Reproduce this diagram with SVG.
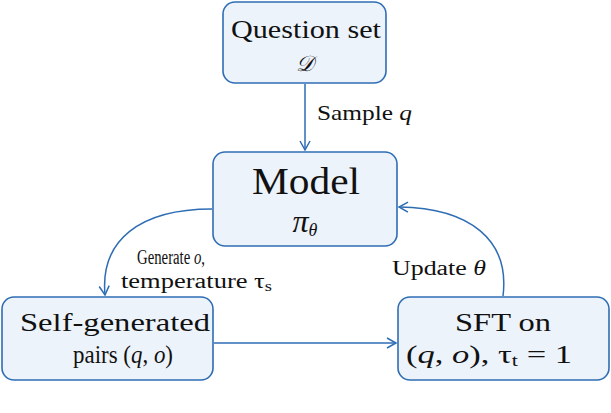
<svg xmlns="http://www.w3.org/2000/svg" width="611" height="413" viewBox="0 0 611 413">
<style>
.box{fill:#edf3fb;stroke:#2e6db4;stroke-width:1.6}
.c{fill:none;stroke:#2e6db4;stroke-width:1.5}
text{font-family:'Liberation Serif','DejaVu Serif',serif;fill:#111}
.i{font-style:italic}
</style>
<defs><marker id="a" markerWidth="12" markerHeight="12" refX="10" refY="6" orient="auto" markerUnits="userSpaceOnUse"><path d="M1,1 L10,6 L1,11" fill="none" stroke="#2e6db4" stroke-width="1.5"/></marker></defs>
<rect width="611" height="413" fill="#fff"/>
<g id="connectors">
<path class="c" d="M305,84 V150" marker-end="url(#a)"/>
<path class="c" d="M212,209 C140,209 100,240 105,295" marker-end="url(#a)"/>
<path class="c" d="M214,343 H396" marker-end="url(#a)"/>
<path class="c" d="M503,296 C510,240 470,208 399,207" marker-end="url(#a)"/>
<text x="317" y="120" font-size="21" textLength="95" lengthAdjust="spacingAndGlyphs">Sample <tspan class="i">q</tspan></text>
<text x="137" y="264" font-size="20" textLength="68" lengthAdjust="spacingAndGlyphs">Generate <tspan class="i">o</tspan>,</text>
<text x="121" y="288" font-size="20" textLength="151" lengthAdjust="spacingAndGlyphs">temperature τ<tspan font-size="14" dy="3">s</tspan></text>
<text x="392" y="275" font-size="20" textLength="94" lengthAdjust="spacingAndGlyphs">Update <tspan class="i">θ</tspan></text>
</g>
<g id="question"><rect class="box" x="223" y="2" width="163" height="81" rx="12"/>
<text x="231" y="38" font-size="26" textLength="150" lengthAdjust="spacingAndGlyphs">Question set</text>
<text x="305" y="71" font-size="22" text-anchor="middle" class="i" font-family="DejaVu Serif">𝒟</text></g>
<g id="model"><rect class="box" x="213" y="152" width="184" height="94" rx="12"/>
<text x="252" y="194" font-size="38" textLength="108" lengthAdjust="spacingAndGlyphs">Model</text>
<text x="305" y="232" font-size="32" text-anchor="middle" class="i">π<tspan font-size="18" dy="4">θ</tspan></text></g>
<g id="pairs"><rect class="box" x="2" y="297" width="211" height="83" rx="12"/>
<text x="20" y="331" font-size="25" textLength="190" lengthAdjust="spacingAndGlyphs">Self-generated</text>
<text x="73" y="363" font-size="25" textLength="100" lengthAdjust="spacingAndGlyphs">pairs (<tspan class="i">q</tspan>, <tspan class="i">o</tspan>)</text></g>
<g id="sft"><rect class="box" x="398" y="297" width="211" height="83" rx="12"/>
<text x="455" y="331" font-size="25" textLength="96" lengthAdjust="spacingAndGlyphs">SFT on</text>
<text x="406" y="363" font-size="25" textLength="166" lengthAdjust="spacingAndGlyphs">(<tspan class="i">q</tspan>, <tspan class="i">o</tspan>), τ<tspan font-size="16" dy="3">t</tspan><tspan dy="-3"> = 1</tspan></text></g>
</svg>
